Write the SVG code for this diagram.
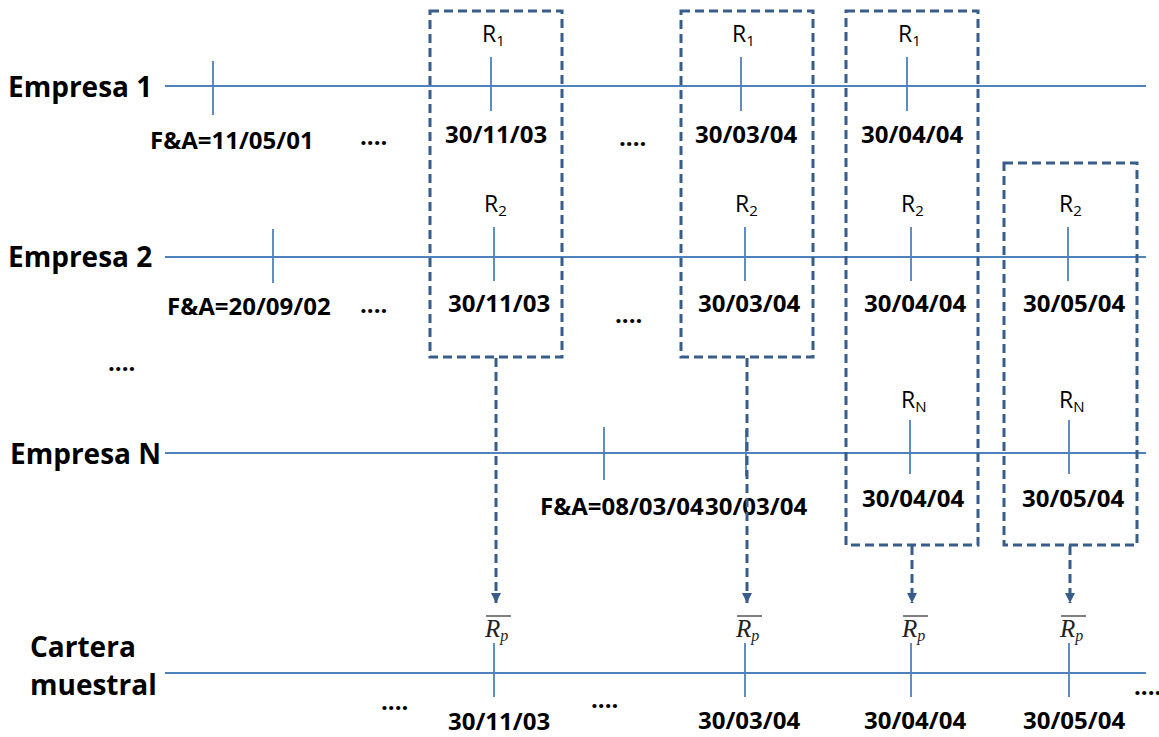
<svg xmlns="http://www.w3.org/2000/svg" width="1159" height="737" viewBox="0 0 1159 737">
<defs>
<style>
.lbl{font-family:"Open Sans","Liberation Sans",sans-serif;font-weight:bold;font-size:28px;fill:#000}
.dt{font-family:"Open Sans","Liberation Sans",sans-serif;font-weight:bold;font-size:24px;fill:#000}
.r{font-family:"Open Sans","Liberation Sans",sans-serif;font-size:23px;fill:#000}
.sub{font-size:15px}
.rp{font-family:"Liberation Serif","DejaVu Serif",serif;font-style:italic;font-size:25px;fill:#222}
.rps{font-size:16px}
.tl{stroke:#4F81BD;stroke-width:2;fill:none}
.tk{stroke:#4F81BD;stroke-width:1.8;fill:none}
.box{stroke:#385D8A;stroke-width:3;fill:none;stroke-dasharray:9 5}
.arr{stroke:#385D8A;stroke-width:3;fill:none;stroke-dasharray:9 5}
.ov{stroke:#555;stroke-width:1.5}
</style>
<marker id="ah" viewBox="0 0 10 10" refX="10" refY="5" markerWidth="3.4" markerHeight="3.4" orient="auto" markerUnits="strokeWidth">
<path d="M0,0 L10,5 L0,10 z" fill="#385D8A"/>
</marker>
</defs>
<rect width="1159" height="737" fill="#fff"/>

<g id="timelines">
<line class="tl" x1="165" y1="86" x2="1146" y2="86"/>
<line class="tl" x1="165" y1="257" x2="1146" y2="257"/>
<line class="tl" x1="165" y1="453" x2="1146" y2="453"/>
<line class="tl" x1="165" y1="673" x2="1146" y2="673"/>
</g>

<g id="labels">
<text class="lbl" x="8" y="97">Empresa 1</text>
<text class="lbl" x="8" y="267">Empresa 2</text>
<text class="lbl" x="10" y="464">Empresa N</text>
<text class="lbl" x="30" y="657">Cartera</text>
<text class="lbl" x="30" y="695">muestral</text>
<text class="dt" x="108" y="371">....</text>
</g>

<g id="empresa1">
<line class="tk" x1="213" y1="61" x2="213" y2="115"/>
<text class="dt" x="150" y="149">F&amp;A=11/05/01</text>
<text class="dt" x="360" y="145">....</text>
<line class="tk" x1="491" y1="57" x2="491" y2="111"/>
<text class="r" x="482" y="42">R<tspan class="sub" dy="4">1</tspan></text>
<text class="dt" x="445" y="143">30/11/03</text>
<text class="dt" x="619" y="146">....</text>
<line class="tk" x1="741" y1="57" x2="741" y2="111"/>
<text class="r" x="732" y="42">R<tspan class="sub" dy="4">1</tspan></text>
<text class="dt" x="695" y="143">30/03/04</text>
<line class="tk" x1="907" y1="57" x2="907" y2="111"/>
<text class="r" x="898" y="42">R<tspan class="sub" dy="4">1</tspan></text>
<text class="dt" x="861" y="143">30/04/04</text>
</g>

<g id="empresa2">
<line class="tk" x1="273" y1="229" x2="273" y2="283"/>
<text class="dt" x="167" y="315">F&amp;A=20/09/02</text>
<text class="dt" x="360" y="313">....</text>
<line class="tk" x1="494" y1="227" x2="494" y2="281"/>
<text class="r" x="484" y="212">R<tspan class="sub" dy="4">2</tspan></text>
<text class="dt" x="448" y="312">30/11/03</text>
<text class="dt" x="615" y="323">....</text>
<line class="tk" x1="745" y1="227" x2="745" y2="281"/>
<text class="r" x="735" y="212">R<tspan class="sub" dy="4">2</tspan></text>
<text class="dt" x="698" y="312">30/03/04</text>
<line class="tk" x1="911" y1="227" x2="911" y2="281"/>
<text class="r" x="901" y="212">R<tspan class="sub" dy="4">2</tspan></text>
<text class="dt" x="864" y="312">30/04/04</text>
<line class="tk" x1="1068" y1="227" x2="1068" y2="281"/>
<text class="r" x="1059" y="212">R<tspan class="sub" dy="4">2</tspan></text>
<text class="dt" x="1023" y="312">30/05/04</text>
</g>

<g id="empresaN">
<line class="tk" x1="604" y1="427" x2="604" y2="480"/>
<line class="tk" x1="746" y1="430" x2="746" y2="476"/>
<text class="dt" x="540" y="515">F&amp;A=08/03/04</text>
<text class="dt" x="705" y="515">30/03/04</text>
<line class="tk" x1="910" y1="420" x2="910" y2="474"/>
<text class="r" x="901" y="408">R<tspan class="sub" dy="4">N</tspan></text>
<text class="dt" x="862" y="507">30/04/04</text>
<line class="tk" x1="1069" y1="420" x2="1069" y2="474"/>
<text class="r" x="1059" y="408">R<tspan class="sub" dy="4">N</tspan></text>
<text class="dt" x="1022" y="507">30/05/04</text>
</g>

<g id="boxes">
<rect id="box1" class="box" x="430" y="11" width="132" height="346"/>
<rect id="box2" class="box" x="681" y="11" width="132" height="346"/>
<rect id="box3" class="box" x="846" y="11" width="132" height="534"/>
<rect id="box4" class="box" x="1004" y="163" width="133" height="382"/>
</g>

<g id="connectors">
<line class="arr" x1="496" y1="358" x2="496" y2="603" marker-end="url(#ah)"/>
<line class="arr" x1="747" y1="358" x2="747" y2="603" marker-end="url(#ah)"/>
<line class="arr" x1="912" y1="546" x2="912" y2="603" marker-end="url(#ah)"/>
<line class="arr" x1="1070" y1="546" x2="1070" y2="603" marker-end="url(#ah)"/>
</g>

<g id="cartera">
<line class="ov" x1="486" y1="616" x2="511" y2="616"/>
<text class="rp" x="485" y="637">R<tspan class="rps" dy="4">p</tspan></text>
<line class="tk" x1="494" y1="643" x2="494" y2="697"/>
<text class="dt" x="448" y="730">30/11/03</text>
<line class="ov" x1="737" y1="616" x2="762" y2="616"/>
<text class="rp" x="736" y="637">R<tspan class="rps" dy="4">p</tspan></text>
<line class="tk" x1="745" y1="643" x2="745" y2="697"/>
<text class="dt" x="698" y="729">30/03/04</text>
<line class="ov" x1="903" y1="616" x2="928" y2="616"/>
<text class="rp" x="902" y="637">R<tspan class="rps" dy="4">p</tspan></text>
<line class="tk" x1="911" y1="643" x2="911" y2="697"/>
<text class="dt" x="864" y="729">30/04/04</text>
<line class="ov" x1="1061" y1="616" x2="1086" y2="616"/>
<text class="rp" x="1060" y="637">R<tspan class="rps" dy="4">p</tspan></text>
<line class="tk" x1="1069" y1="643" x2="1069" y2="697"/>
<text class="dt" x="1023" y="729">30/05/04</text>
<text class="dt" x="381" y="710">....</text>
<text class="dt" x="591" y="708">....</text>
<text class="dt" x="1134" y="695">....</text>
</g>
</svg>
